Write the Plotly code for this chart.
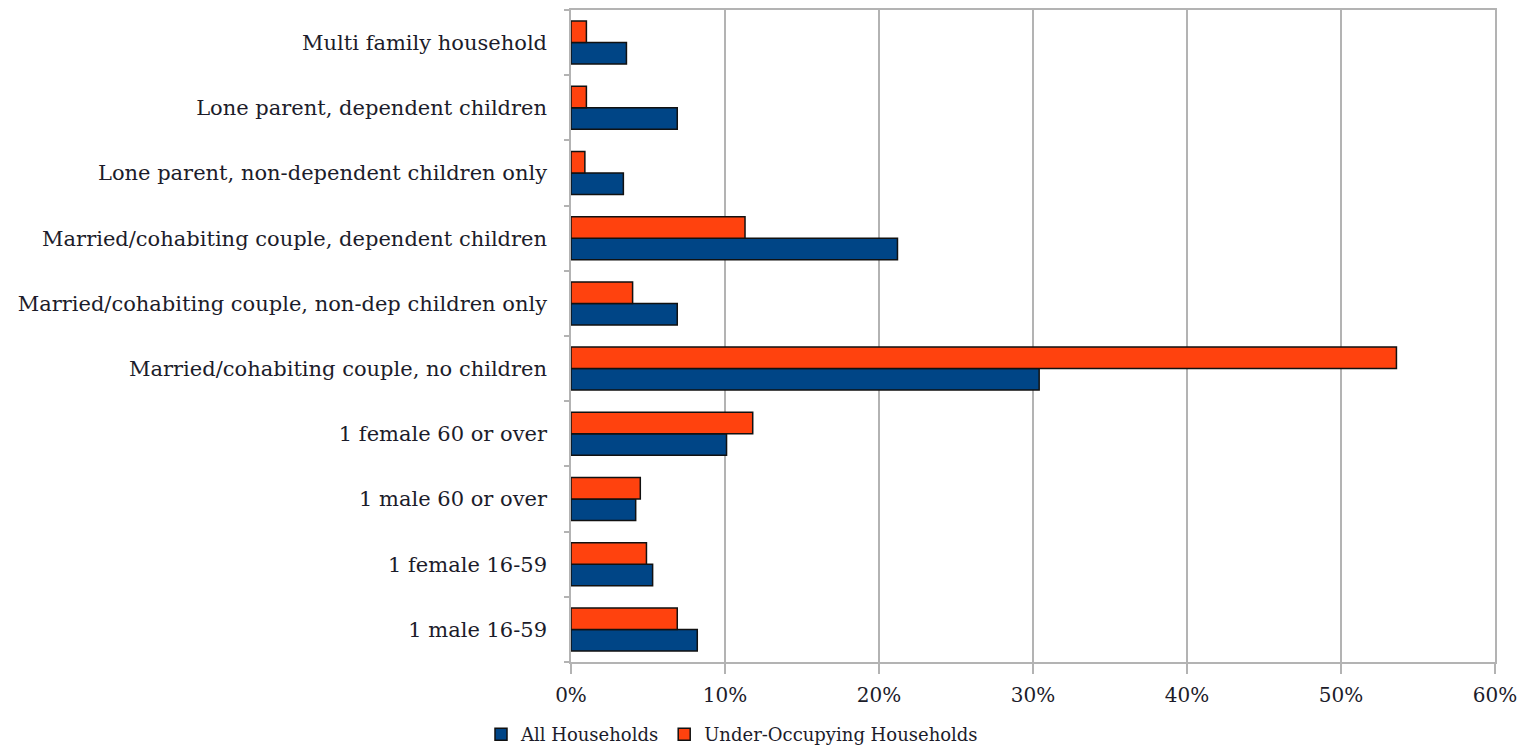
import plotly.graph_objects as go

# categories listed bottom to top (as plotted on the category axis)
categories = [
    "1 male 16-59",
    "1 female 16-59",
    "1 male 60 or over",
    "1 female 60 or over",
    "Married/cohabiting couple, no children",
    "Married/cohabiting couple, non-dep children only",
    "Married/cohabiting couple, dependent children",
    "Lone parent, non-dependent children only",
    "Lone parent, dependent children",
    "Multi family household",
]
all_households = [8.2, 5.3, 4.2, 10.1, 30.4, 6.9, 21.2, 3.4, 6.9, 3.6]
under_occupying = [6.9, 4.9, 4.5, 11.8, 53.6, 4.0, 11.3, 0.9, 1.0, 1.0]
x_ticks = [0, 10, 20, 30, 40, 50, 60]
x_tick_labels = ["0%", "10%", "20%", "30%", "40%", "50%", "60%"]

FONT = "DejaVu Serif"
TXT = "#1c1c2a"

fig = go.Figure()
fig.add_trace(go.Bar(
    y=categories, x=all_households, orientation="h", name="All Households",
    marker=dict(color="#004586", line=dict(color="#111111", width=1.5)),
))
fig.add_trace(go.Bar(
    y=categories, x=under_occupying, orientation="h", name="Under-Occupying Households",
    marker=dict(color="#ff420e", line=dict(color="#111111", width=1.5)),
))

fig.update_layout(
    width=1525, height=748,
    margin=dict(l=571, r=28, t=8, b=86),
    paper_bgcolor="white", plot_bgcolor="white",
    barmode="group", bargap=0.34, bargroupgap=0,
    font=dict(family=FONT, size=21, color=TXT),
    showlegend=True,
    legend=dict(
        orientation="h", xref="container", yref="container",
        x=0.48, xanchor="center", y=0.018, yanchor="middle",
        font=dict(family=FONT, size=18, color=TXT),
        itemwidth=30, traceorder="normal",
    ),
    xaxis=dict(
        range=[0, 60], tickvals=x_ticks, ticktext=x_tick_labels,
        showgrid=True, gridcolor="#b3b3b3", gridwidth=1.5,
        ticks="outside", ticklen=10, tickcolor="#b3b3b3", tickwidth=1.5,
        showline=True, linecolor="#b3b3b3", linewidth=1.5, mirror=True,
        zeroline=False, tickfont=dict(size=20, family=FONT, color=TXT),
        ticklabelstandoff=4,
    ),
    yaxis=dict(
        type="category", categoryorder="array", categoryarray=categories,
        tickson="boundaries", ticks="outside", ticklen=5,
        tickcolor="#b3b3b3", tickwidth=1.5,
        showline=True, linecolor="#b3b3b3", linewidth=1.5, mirror=True,
        showgrid=False, tickfont=dict(size=21, family=FONT, color=TXT),
        ticklabelstandoff=18,
    ),
)

fig.write_html("out.html", config={"displayModeBar": False},
               post_script="document.body.style.margin='0';")
